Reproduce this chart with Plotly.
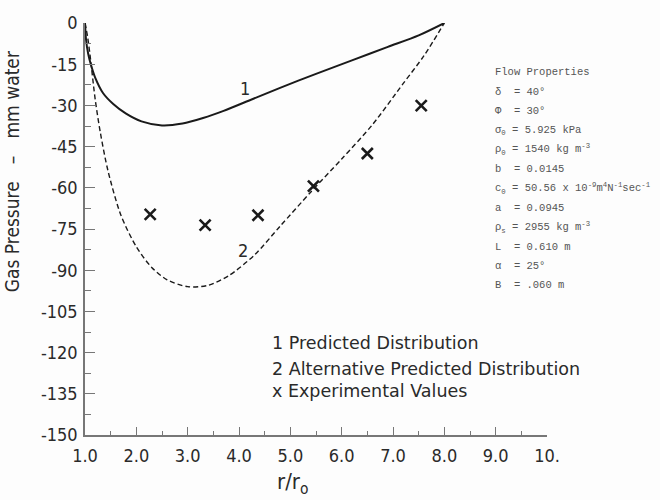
import plotly.graph_objects as go

# ---- data ----
x_pred = [1.0, 1.02, 1.06, 1.12, 1.2, 1.35, 1.55, 1.8, 2.1, 2.5, 2.9, 3.3, 3.7, 4.2, 4.8, 5.5, 6.2, 6.9, 7.5, 8.0]
y_pred = [0, -6, -11, -15.5, -20, -25.5, -29.5, -33, -35.8, -37.3, -36.6, -34.6, -32, -28.2, -23.6, -18.5, -13.6, -8.7, -4.5, 0]

x_alt = [1.0, 1.05, 1.1, 1.2, 1.3, 1.45, 1.7, 2.0, 2.3, 2.6, 3.0, 3.4, 3.8, 4.3, 4.8, 5.4, 6.0, 6.6, 7.2, 7.6, 8.0]
y_alt = [0, -5, -12, -28, -40, -54, -70, -81.5, -89, -93.5, -96, -95.5, -92, -84.5, -74, -61.5, -49.5, -37, -22, -12, 0]

x_exp = [2.27, 3.34, 4.37, 5.45, 6.5, 7.55]
y_exp = [-69.7, -73.6, -70.0, -59.4, -47.5, -30.1]

x_ticks = [1, 2, 3, 4, 5, 6, 7, 8, 9, 10]
x_ticktext = ["1.0", "2.0", "3.0", "4.0", "5.0", "6.0", "7.0", "8.0", "9.0", "10."]
y_ticks = [0, -15, -30, -45, -60, -75, -90, -105, -120, -135, -150]
y_ticktext = ["0", "-15", "-30", "-45", "-60", "-75", "-90", "-105", "-120", "-135", "-150"]

legend_lines = ["1 Predicted Distribution", "2 Alternative Predicted Distribution", "x Experimental Values"]
props = [
    "Flow Properties",
    "δ  = 40°",
    "Φ  = 30°",
    "σ<sub>0</sub> = 5.925 kPa",
    "ρ<sub>0</sub> = 1540 kg m<sup>-3</sup>",
    "b  = 0.0145",
    "c<sub>0</sub> = 50.56 x 10<sup>-9</sup>m<sup>4</sup>N<sup>-1</sup>sec<sup>-1</sup>",
    "a  = 0.0945",
    "ρ<sub>s</sub> = 2955 kg m<sup>-3</sup>",
    "L  = 0.610 m",
    "α  = 25°",
    "B  = .060 m",
]

# ---- layout helpers (pixel -> paper) ----
L, R, T, B = 85, 113, 18, 65
W, H = 660, 500
PW, PH = W - L - R, H - T - B
def px(x):
    return (x - L) / PW
def py(y):
    return (H - B - y) / PH

FONT = "DejaVu Sans Condensed, Liberation Sans Narrow, DejaVu Sans"
INK = "#2a2a2a"
AX = "#777777"

fig = go.Figure()
fig.add_trace(go.Scatter(x=x_pred, y=y_pred, mode="lines", line=dict(color="#1a1a1a", width=2, shape="spline", smoothing=0.8), showlegend=False))
fig.add_trace(go.Scatter(x=x_alt, y=y_alt, mode="lines", line=dict(color="#1a1a1a", width=1.4, dash="5px,3px", shape="spline", smoothing=0.8), showlegend=False))
fig.add_trace(go.Scatter(x=x_exp, y=y_exp, mode="markers", marker=dict(symbol="x-thin", size=11, line=dict(width=2.6, color="#1a1a1a")), showlegend=False))

ann = []
ann.append(dict(x=4.12, y=-24, xref="x", yref="y", text="1", showarrow=False, font=dict(family=FONT, size=18, color=INK)))
ann.append(dict(x=4.08, y=-83, xref="x", yref="y", text="2", showarrow=False, font=dict(family=FONT, size=18, color=INK)))
for i, (t, yy) in enumerate(zip(legend_lines, [342, 368, 390])):
    ann.append(dict(x=px(270), y=py(yy), xref="paper", yref="paper", text=t, showarrow=False, xanchor="left", yanchor="middle", font=dict(family="DejaVu Sans", size=17.5, color=INK)))
for i, t in enumerate(props):
    yy = 68 + i * 19.6
    ann.append(dict(x=px(493), y=py(yy), xref="paper", yref="paper", text=t, showarrow=False, xanchor="left", yanchor="middle", font=dict(family="Liberation Mono, DejaVu Sans Mono", size=10.5, color="#555555")))
ann.append(dict(x=px(12), y=py(168), xref="paper", yref="paper", text="Gas Pressure\u2003\u2013\u2003mm water", textangle=-90, showarrow=False, xanchor="center", yanchor="middle", font=dict(family=FONT, size=19, color=INK)))
ann.append(dict(x=px(292), y=py(484), xref="paper", yref="paper", text="r/r<sub>o</sub>", showarrow=False, xanchor="center", yanchor="middle", font=dict(family=FONT, size=22, color=INK)))
fig.update_layout(annotations=ann)

fig.update_layout(
    width=W, height=H,
    margin=dict(l=L, r=R, t=T, b=B),
    paper_bgcolor="#fdfdfd", plot_bgcolor="#fdfdfd",
    xaxis=dict(range=[1, 10], tickvals=x_ticks, ticktext=x_ticktext, showgrid=False, zeroline=False,
               showline=True, linecolor=AX, linewidth=1.5, ticks="inside", ticklen=8, tickcolor=AX, tickwidth=1.2,
               minor=dict(dtick=0.5, ticks="inside", ticklen=4, tickcolor=AX, tickwidth=1),
               tickfont=dict(family=FONT, size=18, color=INK), ticklabelstandoff=4),
    yaxis=dict(range=[-150, 0], tickvals=y_ticks, ticktext=y_ticktext, showgrid=False, zeroline=False,
               showline=True, linecolor=AX, linewidth=1.5, ticks="inside", ticklen=10, tickcolor=AX, tickwidth=1.2,
               minor=dict(dtick=7.5, ticks="inside", ticklen=6, tickcolor=AX, tickwidth=1),
               tickfont=dict(family=FONT, size=18, color=INK), ticklabelstandoff=2),
)
fig.write_html("out.html")
